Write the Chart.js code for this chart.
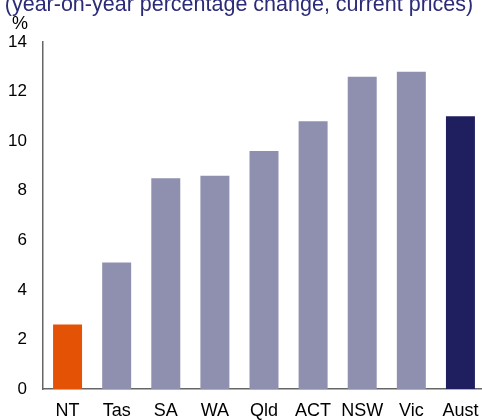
<!DOCTYPE html>
<html>
<head>
<meta charset="utf-8">
<script src="https://cdn.jsdelivr.net/npm/chart.js@4"></script>
<style>
  html, body { margin: 0; padding: 0; background: #fff; overflow: hidden; }
  #wrap { position: relative; width: 482px; height: 420px; overflow: hidden; }
  canvas { display: block; }
</style>
</head>
<body>
<div id="wrap"><canvas id="chart" width="486" height="420"></canvas></div>
<script>
// Growth by state/territory, % change year-on-year
var regions = ['NT', 'Tas', 'SA', 'WA', 'Qld', 'ACT', 'NSW', 'Vic', 'Aust'];
var growth = [2.6, 5.1, 8.5, 8.6, 9.6, 10.8, 12.6, 12.8, 11.0];
var barColors = ['#E35205', '#8F8FAF', '#8F8FAF', '#8F8FAF', '#8F8FAF', '#8F8FAF', '#8F8FAF', '#8F8FAF', '#1F1F5F'];
var yTicks = [0, 2, 4, 6, 8, 10, 12, 14];
var subtitle = '(year-on-year percentage change, current prices)';
var unitLabel = '%';

var FONT = 'Arial, "Liberation Sans", sans-serif';
Chart.defaults.font.family = FONT;
Chart.defaults.color = '#000';

// subtitle (clipped at the top) and the % unit label
var extraText = {
  id: 'extraText',
  afterDraw: function(chart) {
    var ctx = chart.ctx;
    ctx.save();
    ctx.fillStyle = '#2B2B78';
    ctx.font = '21.5px ' + FONT;
    ctx.textAlign = 'center';
    ctx.textBaseline = 'alphabetic';
    ctx.fillText(subtitle, 239, 11);
    ctx.fillStyle = '#000';
    ctx.font = '18px ' + FONT;
    ctx.textAlign = 'center';
    ctx.textBaseline = 'middle';
    ctx.fillText(unitLabel, 20, 24);
    ctx.restore();
  }
};

new Chart(document.getElementById('chart'), {
  type: 'bar',
  data: {
    labels: regions,
    datasets: [{
      data: growth,
      backgroundColor: barColors,
      borderWidth: 0,
      categoryPercentage: 1,
      barPercentage: 0.59
    }]
  },
  options: {
    responsive: false,
    animation: false,
    layout: { padding: { top: 42, left: 0, right: 1, bottom: 0 } },
    plugins: { legend: { display: false }, tooltip: { enabled: false } },
    scales: {
      x: {
        afterFit: function(axis) {
          axis.height = 31;
          axis.paddingLeft = 0;
          axis.paddingRight = 0;
        },
        grid: { display: false, drawTicks: false },
        border: { display: true, color: '#666', width: 1.5 },
        ticks: { padding: 11.5, font: { size: 18 }, color: '#000', maxRotation: 0 }
      },
      y: {
        min: 0, max: 14,
        afterBuildTicks: function(axis) {
          axis.ticks = yTicks.map(function(v) { return { value: v }; });
        },
        afterFit: function(axis) { axis.width = 43; },
        grid: { display: false, drawTicks: false },
        border: { display: true, color: '#666', width: 1.5 },
        ticks: { padding: 16, font: { size: 17 }, color: '#000' }
      }
    }
  },
  plugins: [extraText]
});
</script>
</body>
</html>
